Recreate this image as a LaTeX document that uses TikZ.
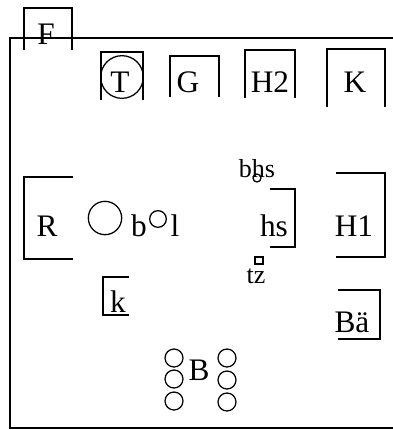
\documentclass[tikz,border=0pt]{standalone}
\usepackage{fontspec}
\setmainfont{Liberation Serif}
\tikzset{
	big/.style={anchor=base,inner sep=0pt,font=\fontsize{23.5}{25}\selectfont},
	small/.style={anchor=base,inner sep=0pt,font=\fontsize{19.5}{21}\selectfont},
	wall/.style={line width=1.1pt},
	part/.style={line width=0.95pt},
	ring/.style={circle,draw,line width=0.95pt,inner sep=0pt},
}

\begin{document}
\begin{tikzpicture}[x=0.75pt,y=-0.75pt]
			\useasboundingbox (0,0) rectangle (393,430);
			% room
			\draw[wall] (393,38) -- (10,38) -- (10,428) -- (393,428);
			% top row
			\draw[part] (24,50) -- (24,8) -- (72,8) -- (72,50);
			\draw[part] (101,100) -- (101,52) -- (143,52) -- (143,100);
			\draw[part] (170,97) -- (170,56) -- (219,56) -- (219,97);
			\draw[part] (245,98) -- (245,50) -- (295,50) -- (295,98);
			\draw[part] (327,107) -- (327,49) -- (385,49) -- (385,107);
			\node[ring,minimum size=32pt]  at (122,77)  (tring)  {};
			\node[big]  at (46,44)   (f)   {F};
			\node[big]  at (120,92)  (t)   {T};
			\node[big]  at (188,92)  (g)   {G};
			\node[big]  at (270,92)  (h2)  {H2};
			\node[big]  at (355,92)  (kk)  {K};
			% left side
			\draw[part] (73,177) -- (24,177) -- (24,259) -- (73,259);
			\draw[part] (129,277) -- (103,277) -- (103,315) -- (129,315);
			\node[ring,minimum size=25pt]  at (105,218)  (bring)  {};
			\node[ring,minimum size=12.5pt]  at (158,219)  (lring)  {};
			\node[big]  at (47,236)   (r)   {R};
			\node[big]  at (139,236)  (b)   {b};
			\node[big]  at (175,236)  (l)   {l};
			\node[big]  at (118,312)  (k)   {k};
			% right side
			\draw[part] (270,189) -- (295,189) -- (295,247) -- (270,247);
			\draw[part] (336,173) -- (385,173) -- (385,257) -- (336,257);
			\draw[part] (338,290) -- (380,290) -- (380,339) -- (338,339);
			\node[ring,minimum size=6pt]  at (257,178)  (bhsring)  {};
			\draw[part] (255,257) rectangle (263,264);
			\node[small]  at (257,177)  (bhs)  {bhs};
			\node[big]    at (274,236)  (hs)   {hs};
			\node[small]  at (256,283)  (tz)   {tz};
			\node[big]    at (354,236)  (h1)   {H1};
			\node[big]    at (352,332)  (ba)   {Bä};
			% burners
			\node[ring,minimum size=13.5pt]  at (174,358)  (b1)  {};
			\node[ring,minimum size=13.5pt]  at (174,379)  (b2)  {};
			\node[ring,minimum size=13.5pt]  at (174,401)  (b3)  {};
			\node[ring,minimum size=13.5pt]  at (227,358)  (b4)  {};
			\node[ring,minimum size=13.5pt]  at (227,380)  (b5)  {};
			\node[ring,minimum size=13.5pt]  at (227,402)  (b6)  {};
			\node[big]  at (199,380)  (bb)  {B};
		\end{tikzpicture}
\end{document}
